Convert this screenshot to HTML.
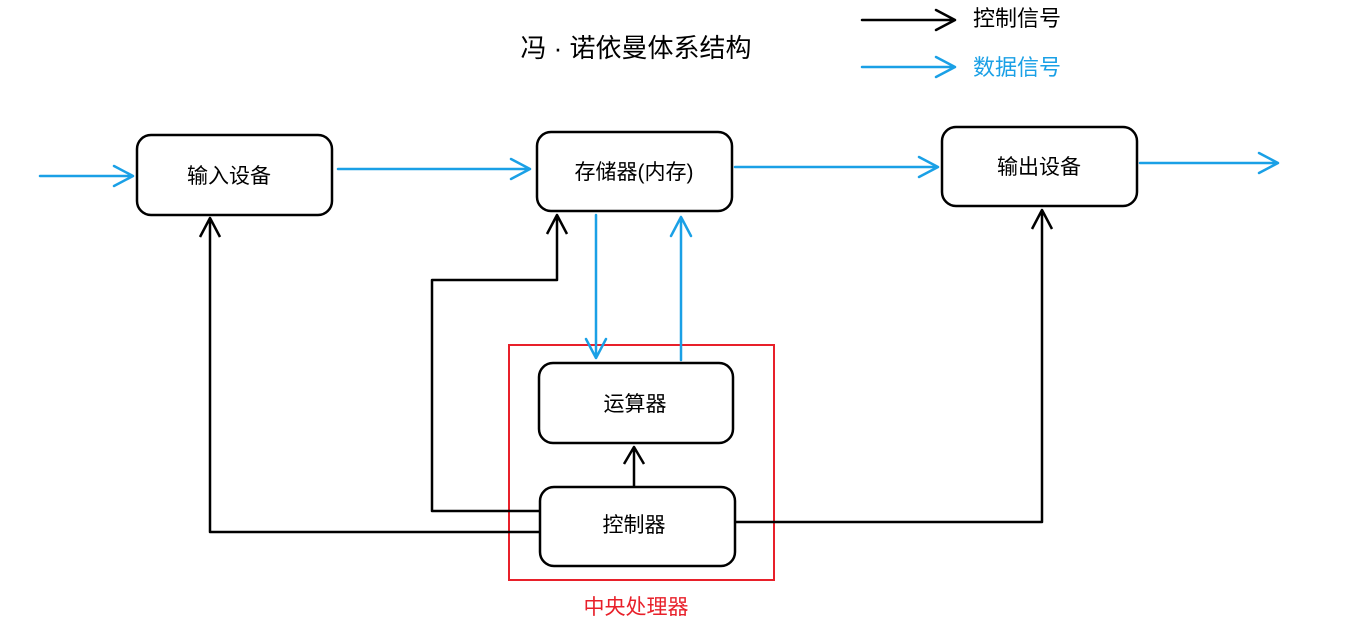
<!DOCTYPE html>
<html><head><meta charset="utf-8"><style>
html,body{margin:0;padding:0;background:#fff;}
svg{display:block;}
text{font-family:"Liberation Sans","Noto Sans CJK SC",sans-serif;}
</style></head><body>
<svg width="1368" height="627" viewBox="0 0 1368 627" xmlns="http://www.w3.org/2000/svg">
<g fill="none" stroke-width="2.5" stroke-linejoin="round" stroke-linecap="round">
<!-- legend -->
<g stroke="#000"><path d="M862 20H955M936 10L955 20L936 30"/></g>
<g stroke="#1aa0e6"><path d="M862 67H955M936 57L955 67L936 77"/></g>
<!-- boxes -->
<g stroke="#000">
<rect x="137" y="135" width="195" height="80" rx="14"/>
<rect x="537" y="132" width="195" height="79" rx="14"/>
<rect x="942" y="127" width="195" height="79" rx="14"/>
<rect x="539" y="363" width="194" height="80" rx="14"/>
<rect x="540" y="487" width="195" height="79" rx="14"/>
</g>
<rect x="509" y="345" width="265" height="235" stroke="#e8202a" stroke-width="2" stroke-linejoin="miter"/>
<!-- blue arrows -->
<g stroke="#1aa0e6">
<path d="M40 176H133M114 166L133 176L114 186"/>
<path d="M338 169H530M511 159L530 169L511 179"/>
<path d="M735 167H938M919 157L938 167L919 177"/>
<path d="M1140 163H1278M1259 153L1278 163L1259 173"/>
<path d="M596 215V358M586 339L596 358L606 339"/>
<path d="M681 360V217M671 236L681 217L691 236"/>
</g>
<!-- black arrows -->
<g stroke="#000" stroke-linecap="butt">
<path d="M634 487V447M624 464L634 447L644 464"/>
<path d="M540 532H210V218M200 237L210 218L220 237"/>
<path d="M540 511H432V280H557V215M547 234L557 215L567 234"/>
<path d="M735 522H1042V210M1032 229L1042 210L1052 229"/>
</g>
</g>
<g font-size="21" fill="#000" text-anchor="middle">
<text x="636" y="57" font-size="26">冯 · 诺依曼体系结构</text>
<text x="229" y="183">输入设备</text>
<text x="634" y="179">存储器(内存)</text>
<text x="1039" y="174">输出设备</text>
<text x="635" y="411">运算器</text>
<text x="634" y="532">控制器</text>
<text x="636" y="614" fill="#e8202a">中央处理器</text>
<text x="1017" y="26" font-size="22">控制信号</text>
<text x="1017" y="75" font-size="22" fill="#1aa0e6">数据信号</text>
</g>
</svg>
</body></html>
